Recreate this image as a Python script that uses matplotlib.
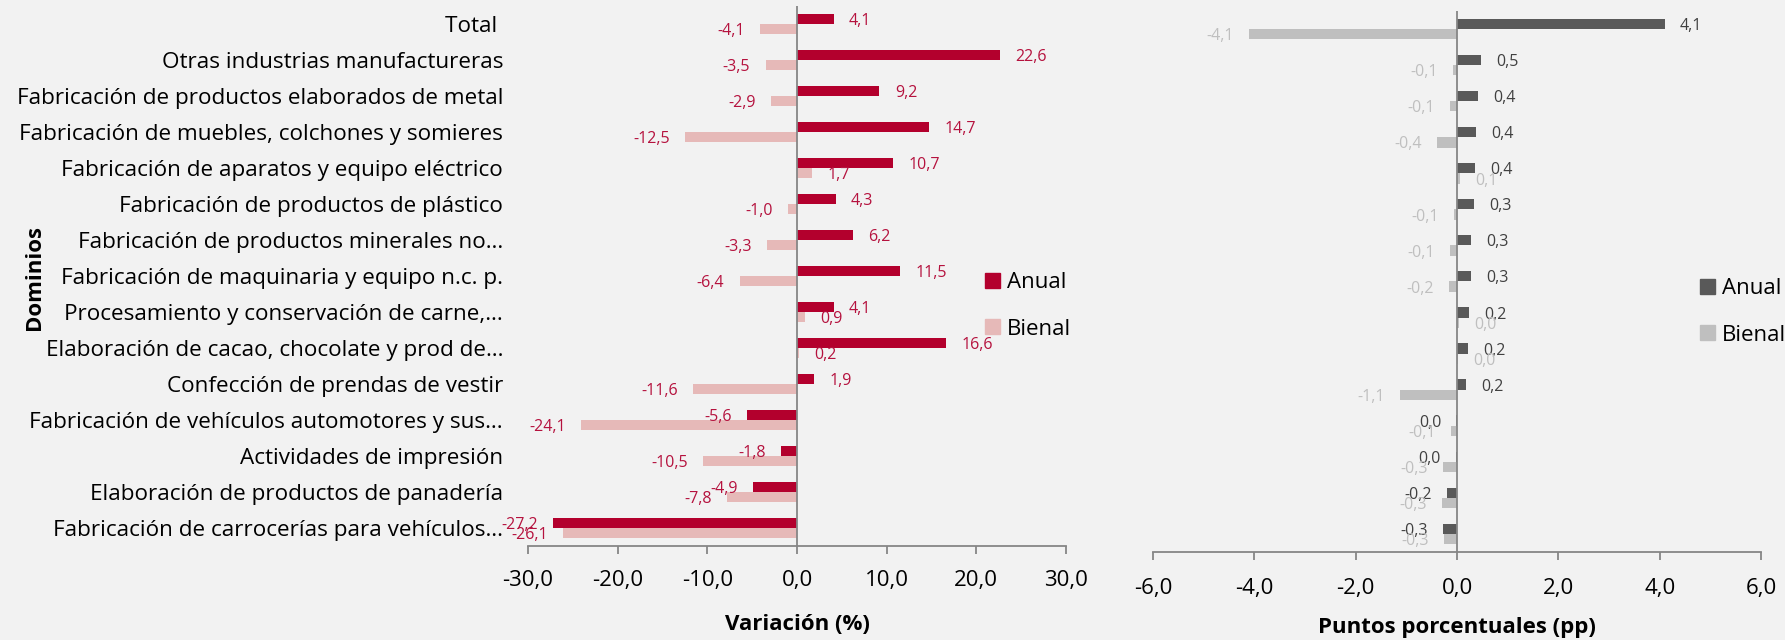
import matplotlib
matplotlib.use("Agg")
import matplotlib.pyplot as plt
from matplotlib.patches import Patch
from matplotlib.ticker import FuncFormatter, MultipleLocator

plt.rcParams['font.family'] = ['Open Sans', 'DejaVu Sans']

categories = [
    "Total ",
    "Otras industrias manufactureras",
    "Fabricación de productos elaborados de metal",
    "Fabricación de muebles, colchones y somieres",
    "Fabricación de aparatos y equipo eléctrico",
    "Fabricación de productos de plástico",
    "Fabricación de productos minerales no…",
    "Fabricación de maquinaria y equipo n.c. p.",
    "Procesamiento y conservación de carne,…",
    "Elaboración de cacao, chocolate y prod de…",
    "Confección de prendas de vestir",
    "Fabricación de vehículos automotores y sus…",
    "Actividades de impresión",
    "Elaboración de productos de panadería",
    "Fabricación de carrocerías para vehículos…",
]

anual_var = [4.1, 22.6, 9.2, 14.7, 10.7, 4.3, 6.2, 11.5, 4.1, 16.6, 1.9, -5.6, -1.8, -4.9, -27.2]
bienal_var = [-4.1, -3.5, -2.9, -12.5, 1.7, -1.0, -3.3, -6.4, 0.9, 0.2, -11.6, -24.1, -10.5, -7.8, -26.1]

anual_pp = [4.1, 0.48, 0.42, 0.38, 0.36, 0.33, 0.27, 0.27, 0.24, 0.22, 0.17, -0.01, -0.02, -0.2, -0.27]
bienal_pp = [-4.1, -0.08, -0.14, -0.39, 0.06, -0.06, -0.14, -0.16, 0.03, 0.02, -1.12, -0.12, -0.27, -0.29, -0.26]

series_names = ["Anual", "Bienal"]

BG = "#F2F2F2"
RED = "#B3002D"
PINK = "#E6B9B8"
RED_TXT = "#B5123E"
DARK = "#595959"
LIGHT = "#BFBFBF"
DARK_TXT = "#404040"
LIGHT_TXT = "#BFBFBF"
AXIS = "#868686"

FS = 16
W, H = 1785, 640
fig = plt.figure(figsize=(W / 100, H / 100), dpi=100, facecolor=BG)

axL = fig.add_axes([528 / W, 1 - 546 / H, 538 / W, 540 / H], facecolor=BG)
axR = fig.add_axes([1153 / W, 1 - 552 / H, 608 / W, 541 / H], facecolor=BG)


def fmt(v):
    s = f"{v:.1f}"
    if s == "-0.0":
        s = "0.0"
    return s.replace(".", ",")


def style(ax, xlim, step, pad):
    ax.set_xlim(*xlim)
    ax.set_ylim(len(categories) - 0.5, -0.5)
    for sp in ("top", "right", "left"):
        ax.spines[sp].set_visible(False)
    ax.spines["bottom"].set_color(AXIS)
    ax.spines["bottom"].set_linewidth(1.3)
    ax.axvline(0, color=AXIS, lw=1.3, zorder=3)
    ax.xaxis.set_major_locator(MultipleLocator(step))
    ax.xaxis.set_major_formatter(FuncFormatter(lambda v, p: fmt(v)))
    ax.tick_params(axis="x", direction="out", length=6, width=1.3, color=AXIS,
                   labelsize=FS, pad=pad, labelcolor="black")


h = 0.285
ys = list(range(len(categories)))

# Left panel
axL.barh([y - h / 2 for y in ys], anual_var, height=h, color=RED, zorder=2)
axL.barh([y + h / 2 for y in ys], bienal_var, height=h, color=PINK, zorder=2)
style(axL, (-30, 30), 10, 11)
axL.set_yticks(ys)
axL.set_yticklabels(categories, fontsize=16.2)
axL.tick_params(axis="y", length=0, pad=18)
for y, a, b in zip(ys, anual_var, bienal_var):
    for v, yy in ((a, y - h / 2), (b, y + h / 2)):
        axL.annotate(fmt(v), xy=(v, yy), xytext=(11 if v >= 0 else -11, -1.5),
                     textcoords="offset points", ha="left" if v >= 0 else "right",
                     va="center", fontsize=11.5, color=RED_TXT, annotation_clip=False)

# Right panel
axR.barh([y - h / 2 for y in ys], anual_pp, height=h, color=DARK, zorder=2)
axR.barh([y + h / 2 for y in ys], bienal_pp, height=h, color=LIGHT, zorder=2)
style(axR, (-6, 6), 2, 13)
axR.set_yticks([])
for y, a, b in zip(ys, anual_pp, bienal_pp):
    for v, yy, c in ((a, y - h / 2, DARK_TXT), (b, y + h / 2, LIGHT_TXT)):
        axR.annotate(fmt(v), xy=(v, yy), xytext=(11 if v >= 0 else -11, -1.5),
                     textcoords="offset points", ha="left" if v >= 0 else "right",
                     va="center", fontsize=11.5, color=c, annotation_clip=False)

# Legends
legL = axL.legend(handles=[Patch(color=RED, label=series_names[0]),
                           Patch(color=PINK, label=series_names[1])],
                  loc="upper left", bbox_to_anchor=(985 / W, 1 - 272 / H),
                  bbox_transform=fig.transFigure, frameon=False, fontsize=FS,
                  handlelength=0.68, handleheight=0.68, handletextpad=0.3,
                  labelspacing=1.15, borderpad=0, borderaxespad=0)
legR = axR.legend(handles=[Patch(color=DARK, label=series_names[0]),
                           Patch(color=LIGHT, label=series_names[1])],
                  loc="upper left", bbox_to_anchor=(1700 / W, 1 - 278 / H),
                  bbox_transform=fig.transFigure, frameon=False, fontsize=FS,
                  handlelength=0.68, handleheight=0.68, handletextpad=0.3,
                  labelspacing=1.15, borderpad=0, borderaxespad=0)

# Axis titles
fig.text(797 / W, 1 - 624 / H, "Variación (%)", ha="center", va="center",
         fontsize=16, fontweight="bold")
fig.text(1457 / W, 1 - 627 / H, "Puntos porcentuales (pp)", ha="center", va="center",
         fontsize=16, fontweight="bold")
fig.text(34 / W, 1 - 277 / H, "Dominios", ha="center", va="center", rotation=90,
         fontsize=16, fontweight="bold")

fig.savefig("out.png", dpi=100, facecolor=BG)
